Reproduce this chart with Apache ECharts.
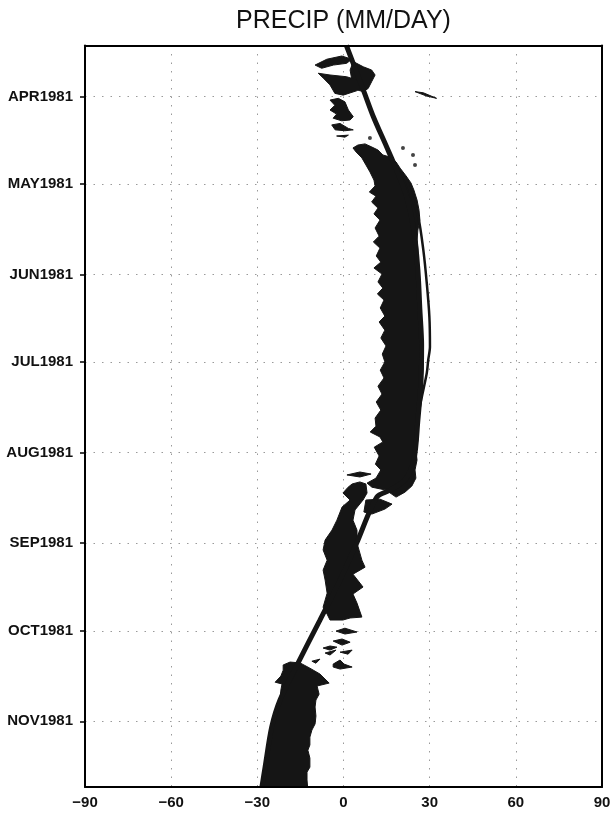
<!DOCTYPE html>
<html>
<head>
<meta charset="utf-8">
<script src="https://cdn.jsdelivr.net/npm/echarts@6/dist/echarts.min.js"></script>
<style>
html,body{margin:0;padding:0;background:#fff;}
#chart{width:613px;height:814px;}
</style>
</head>
<body>
<div id="chart"></div>
<script>
// ---- axis data (y = day of 1981, 0 = Jan 1; x = latitude) ----
const dayMin = 72.5, dayMax = 326.5;
const monthDays = [90, 120, 151, 181, 212, 243, 273, 304];
const monthLabels = ['APR1981','MAY1981','JUN1981','JUL1981','AUG1981','SEP1981','OCT1981','NOV1981'];
const latTicks = [-90, -60, -30, 0, 30, 60, 90];

// ---- thick track line [lat, day] ----
const trackA = [
  [1.0,72.5],[6.9,87.7],[10.4,96.9],[15.0,107.2],[18.5,115.2],[22.0,124.3],[24.5,135.7],
  [25.9,149.4],[26.6,163.1],[27.2,175.1],[27.0,187.1],[25.9,200.8],[24.5,214.5],[21.4,221.3],
  [16.2,224.8],[11.6,227.2],[4.6,242.9],[-1.2,255.6],[-8.2,269.3],[-15.8,284.0],[-22.1,296.7],
  [-25.0,306.0],[-27.3,319.7],[-28.4,326.5]
];
// ---- thin line [lat, day] ----
const trackB = [
  [1.0,72.5],[6.9,87.7],[10.4,96.9],[15.0,107.2],[18.5,115.2],[21.8,118.6],[23.5,123.7],
  [26.0,131.1],[27.8,142.6],[29.0,154.0],[29.9,165.4],[30.1,175.7],[29.5,180.2],[29.0,184.7],
  [26.6,196.3],[25.2,207.6],[24.5,214.5]
];

// ---- precipitation shading: polygons of [lat, day] ----
const blobMarA = [[-9.9,79.2],[-5.8,77.2],[-0.6,76.1],[2.9,77.2],[1.1,78.6],[-3.5,79.2],[-7.6,80.3]];
const blobMarB = [[3.4,78.0],[6.9,79.8],[9.8,80.9],[11.0,82.6],[9.8,84.9],[8.6,87.2],[6.9,88.3],[4.6,87.7],[2.9,84.3],[2.3,80.9]];
const blobMarC = [[-8.8,82.0],[-4.7,82.6],[1.1,83.2],[4.6,84.3],[6.3,86.6],[4.6,88.0],[-0.1,89.5],[-3.0,88.9],[-4.7,86.0],[-7.0,83.7]];
const blobAprA = [[-4.7,91.2],[-1.8,90.6],[0.5,91.8],[1.7,94.6],[3.4,96.9],[2.3,98.0],[-0.6,98.3],[-3.6,97.4],[-2.4,96.0],[-4.7,94.6],[-3.0,93.0]];
const blobAprB = [[-4.1,99.7],[-1.2,99.2],[1.7,100.9],[3.4,101.4],[0.5,101.7],[-2.9,101.4]];
const blobAprC = [[-2.4,103.5],[1.7,103.2],[0.5,103.9]];
const blobAprD = [[24.9,88.3],[27.8,88.7],[32.4,90.6],[28.9,89.8]];
const blobMain = [
  [7.5,106.2],[5.0,106.6],[3.3,107.6],[4.4,109.0],[6.4,111.0],[7.8,113.4],[9.2,115.8],[10.6,118.6],
  [11.0,120.6],[9.0,122.7],[11.3,124.1],[9.8,126.1],[12.0,128.2],[10.6,130.2],[12.7,132.3],[11.0,135.0],
  [12.4,137.8],[10.4,139.8],[12.7,141.9],[11.4,144.6],[13.0,146.7],[10.6,148.7],[13.4,150.8],[12.0,153.5],
  [13.7,155.6],[11.8,157.6],[14.1,159.7],[12.8,162.4],[14.4,165.2],[12.4,167.2],[14.4,170.0],[13.0,172.7],
  [14.8,175.4],[13.5,178.2],[14.4,180.9],[12.8,183.7],[14.1,186.4],[12.0,189.2],[13.4,191.9],[11.4,194.6],
  [13.0,197.4],[11.0,200.1],[11.3,202.9],[9.3,204.9],[12.7,206.6],[13.7,208.3],[10.7,210.1],[12.4,213.1],
  [11.1,215.9],[13.0,217.9],[11.3,220.7],[8.2,222.4],
  [9.9,223.8],[14.8,224.8],[18.3,227.2],[21.4,225.5],[23.8,223.4],[25.2,220.7],
  [24.9,217.9],[25.6,214.5],[25.2,211.1],[25.9,207.7],[25.6,204.2],[26.3,200.8],[26.6,197.4],[27.0,193.9],
  [27.3,190.5],[27.3,187.1],[27.7,183.7],[27.7,180.3],[27.3,176.8],[27.3,173.4],[27.0,170.0],[27.0,166.5],
  [27.0,163.1],[26.6,159.7],[26.6,156.3],[26.6,152.8],[26.3,149.4],[25.9,146.0],[25.9,142.6],[25.6,139.1],
  [25.9,135.7],[26.6,132.3],[26.3,128.9],[25.6,125.4],[24.5,122.0],[23.5,119.6],[21.8,117.2],[19.7,114.5],
  [18.3,112.4],[16.2,110.7],[13.7,110.0],[12.0,108.3],[9.9,107.3]
];
const blobAug = [[1.2,219.6],[5.7,218.6],[9.6,219.3],[5.7,220.3]];
const blobSep = [
  [3.0,222.7],[1.6,223.8],[-0.2,225.8],[2.3,228.2],[-0.5,230.6],[-2.3,235.1],[-4.0,238.5],[-6.4,241.9],
  [-7.1,245.3],[-5.7,248.8],[-7.1,252.2],[-6.4,255.6],[-5.7,260.1],[-7.1,264.9],[-5.7,267.3],[-4.7,269.3],
  [-0.2,269.3],[2.3,268.6],[6.4,268.3],[4.7,263.5],[3.3,260.4],[6.8,258.0],[3.3,253.6],[7.5,251.2],
  [6.4,248.8],[4.7,242.9],[4.7,238.5],[3.3,235.1],[4.0,231.6],[6.8,228.2],[8.2,225.8],[7.8,222.7],[5.7,222.0]
];
const blobSepB = [[7.8,228.2],[12.7,227.9],[16.9,229.6],[14.4,231.3],[9.9,233.0],[7.1,232.3]];
const blobOctA = [[-2.6,273.1],[0.5,272.1],[4.7,273.4],[0.5,274.1]];
const blobOctB = [[-3.6,276.5],[-0.5,275.8],[2.3,276.9],[-0.5,277.9]];
const blobOctC = [[-7.1,278.9],[-4.7,278.2],[-2.3,278.6],[-4.7,279.6]];
const blobOctD = [[-1.2,280.3],[3.0,279.6],[1.6,281.0]];
const blobOctE = [[-6.4,280.6],[-2.6,279.6],[-4.7,281.3]];
const blobOctF = [[-11.0,283.4],[-8.2,282.7],[-9.6,284.1]];
const blobOctG = [[-3.6,284.4],[-1.2,283.0],[0.2,284.4],[3.0,285.4],[-1.2,286.1],[-3.6,285.4]];
const blobNov = [
  [-21.0,284.7],[-18.6,283.7],[-15.1,284.0],[-11.7,285.8],[-8.2,287.8],[-5.0,290.9],[-9.2,291.9],[-8.5,294.7],
  [-9.6,296.7],[-9.9,299.1],[-9.6,302.2],[-9.9,304.9],[-11.0,307.0],[-11.7,309.4],[-11.7,312.1],[-12.4,313.9],
  [-11.7,316.6],[-11.7,319.7],[-12.7,321.4],[-12.7,324.1],[-12.4,327.6],
  [-29.1,327.6],[-27.7,322.4],[-27.3,319.7],[-26.6,316.3],[-26.3,312.8],[-25.6,309.4],[-24.9,306.0],
  [-24.2,302.9],[-23.1,300.2],[-22.1,296.7],[-21.8,293.3],[-21.4,291.2],[-23.8,290.6],[-21.8,288.5],[-21.0,286.5]
];
const rainDots = [[20.7,107.6],[24.2,110.0],[24.9,113.4],[9.2,104.2]];

const polygons = [blobMarA, blobMarB, blobMarC, blobAprA, blobAprB, blobAprC, blobAprD,
  blobMain, blobAug, blobSep, blobSepB, blobOctA, blobOctB, blobOctC, blobOctD, blobOctE,
  blobOctF, blobOctG, blobNov];

const labelFont = "'Liberation Sans', Arial, sans-serif";
const ink = '#151515';
const frameLine = {show: true, onZero: false, lineStyle: {color: '#000', width: 2}};
const gridDots = {show: true, lineStyle: {color: '#9a9a9a', width: 1, type: [1.5, 7]}};

const chart = echarts.init(document.getElementById('chart'), null, {renderer: 'canvas'});
chart.setOption({
  animation: false,
  backgroundColor: '#fff',
  graphic: [{
    type: 'text', x: 343.5, y: 21,
    style: {
      text: 'PRECIP (MM/DAY)', fill: '#111', textAlign: 'center', textVerticalAlign: 'middle',
      font: "normal 25px 'Liberation Sans', sans-serif"
    }
  }],
  grid: {
    left: 85, right: 11, top: 45.5, bottom: 27, show: false,
    containLabel: false, outerBoundsMode: 'none'
  },
  xAxis: [{
    type: 'value', position: 'bottom', min: -90, max: 90, interval: 30,
    axisLine: {show: false, onZero: false},
    axisTick: {show: false},
    axisLabel: {
      color: '#111', fontFamily: labelFont, fontSize: 15, fontWeight: 'bold', margin: 8,
      hideOverlap: false,
      formatter: v => (v < 0 ? '\u2212' + Math.abs(v) : String(v))
    },
    splitLine: gridDots,
    z: 0
  }, {
    type: 'value', position: 'top', min: -90, max: 90, interval: 30,
    axisLine: frameLine, axisTick: {show: false}, axisLabel: {show: false}, splitLine: {show: false}, z: 10
  }, {
    type: 'value', position: 'bottom', min: -90, max: 90, interval: 30,
    axisLine: frameLine, axisTick: {show: false}, axisLabel: {show: false}, splitLine: {show: false}, z: 10
  }],
  yAxis: [{
    type: 'value', position: 'left', inverse: true, min: dayMin, max: dayMax,
    axisLine: {show: false, onZero: false},
    axisTick: {show: true, customValues: monthDays, length: 5, lineStyle: {color: '#000', width: 1.5}},
    axisLabel: {
      customValues: monthDays, color: '#111', fontFamily: labelFont, fontSize: 15, fontWeight: 'bold', margin: 12,
      formatter: v => monthLabels[monthDays.indexOf(v)] || ''
    },
    splitLine: gridDots,
    z: 0
  }, {
    type: 'value', position: 'right', inverse: true, min: dayMin, max: dayMax,
    axisLine: frameLine, axisTick: {show: false}, axisLabel: {show: false}, splitLine: {show: false}, z: 10
  }, {
    type: 'value', position: 'left', inverse: true, min: dayMin, max: dayMax,
    axisLine: frameLine, axisTick: {show: false}, axisLabel: {show: false}, splitLine: {show: false}, z: 10
  }],
  series: [
    {
      type: 'custom', clip: true, z: 2,
      data: polygons.map((p, i) => [p[0][0], p[0][1], i]),
      renderItem: function (params, api) {
        const poly = polygons[params.dataIndex];
        return {
          type: 'polygon',
          shape: {points: poly.map(pt => api.coord(pt))},
          style: {fill: ink, stroke: ink, lineWidth: 1}
        };
      }
    },
    {
      type: 'scatter', data: rainDots, symbol: 'circle', symbolSize: 4, z: 3,
      itemStyle: {color: ink}, clip: true
    },
    {
      type: 'line', data: trackB, smooth: 0.3, showSymbol: false, z: 4, clip: true,
      lineStyle: {color: ink, width: 2.5}
    },
    {
      type: 'line', data: trackA, smooth: 0.3, showSymbol: false, z: 5, clip: true,
      lineStyle: {color: ink, width: 5}
    }
  ]
});
</script>
</body>
</html>
